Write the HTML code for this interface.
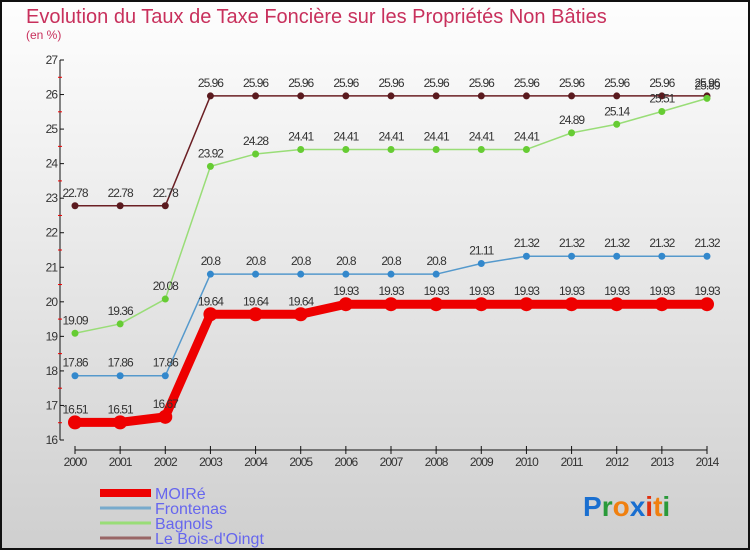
<!DOCTYPE html>
<html><head><meta charset="utf-8"><style>
html,body{margin:0;padding:0}
body{width:750px;height:550px;overflow:hidden;font-family:"Liberation Sans",sans-serif}
</style></head><body>
<svg id="chart" width="750" height="550" xmlns="http://www.w3.org/2000/svg" font-family="Liberation Sans, sans-serif">
<defs><linearGradient id="bg" x1="0" y1="0" x2="0" y2="1"><stop offset="0" stop-color="#fefefe"/><stop offset="1" stop-color="#cfcfcf"/></linearGradient></defs>
<rect x="1" y="1" width="748" height="548" fill="url(#bg)" stroke="#111" stroke-width="2"/>
<text x="26" y="23" font-size="20" fill="#c8305c">Evolution du Taux de Taxe Foncière sur les Propriétés Non Bâties</text>
<text x="26" y="39" font-size="12" fill="#c8305c">(en %)</text>
<g id="axes"></g><g id="series"></g><g id="legend"></g>
<text x="583" y="516" font-size="28" font-weight="bold"><tspan fill="#1a6fd0">P</tspan><tspan fill="#2a9a3a">r</tspan><tspan fill="#f08010">o</tspan><tspan fill="#1a6fd0">x</tspan><tspan fill="#e03010">i</tspan><tspan fill="#f08010">t</tspan><tspan fill="#2a9a3a">i</tspan></text>
</svg>
<script>
const years=[2000,2001,2002,2003,2004,2005,2006,2007,2008,2009,2010,2011,2012,2013,2014];
const moire=[16.51,16.51,16.67,19.64,19.64,19.64,19.93,19.93,19.93,19.93,19.93,19.93,19.93,19.93,19.93];
const frontenas=[17.86,17.86,17.86,20.8,20.8,20.8,20.8,20.8,20.8,21.11,21.32,21.32,21.32,21.32,21.32];
const bagnols=[19.09,19.36,20.08,23.92,24.28,24.41,24.41,24.41,24.41,24.41,24.41,24.89,25.14,25.51,25.89];
const bois=[22.78,22.78,22.78,25.96,25.96,25.96,25.96,25.96,25.96,25.96,25.96,25.96,25.96,25.96,25.96];
const yTicks=[16,17,18,19,20,21,22,23,24,25,26,27];
const names=["MOIRé","Frontenas","Bagnols","Le Bois-d'Oingt"];
const NS="http://www.w3.org/2000/svg";
const x=i=>75+(707-75)*(i-years[0])/(years[years.length-1]-years[0]);
const y=v=>440-(v-16)*(380/11);
function mk(p,t,a){const e=document.createElementNS(NS,t);for(const k in a)e.setAttribute(k,a[k]);p.appendChild(e);return e;}
const ax=document.getElementById('axes');
let l=mk(ax,'line',{x1:60,y1:60,x2:60,y2:440,stroke:'#111'});

l=mk(ax,'line',{x1:75,y1:450,x2:707,y2:450,stroke:'#111'});

yTicks.forEach(v=>{mk(ax,'line',{x1:60,y1:y(v),x2:64,y2:y(v),stroke:'#111'});
if(v<27)mk(ax,'line',{x1:58,y1:y(v+0.5),x2:62,y2:y(v+0.5),stroke:'#e00'});
const t=mk(ax,'text',{x:57,y:y(v)+4,'font-size':12,'text-anchor':'end',fill:'#333','letter-spacing':'-1'});t.textContent=v;
});
years.forEach(yr=>{mk(ax,'line',{x1:x(yr),y1:446,x2:x(yr),y2:454,stroke:'#111'});
const t=mk(ax,'text',{x:x(yr),y:466,'font-size':12,'text-anchor':'middle',fill:'#333','letter-spacing':'-1'});t.textContent=yr;
});
const series=[[bois,'#6b1f24','#5a1a1e',1.5,3.5],[bagnols,'#99dd77','#66cc33',1.5,3.5],[frontenas,'#5599cc','#3388cc',1.5,3.5],[moire,'#ee0000','#ee0000',9,7]];
const sg=document.getElementById('series');
series.forEach(([d,c,mc,w,r],si)=>{
const g=mk(sg,'g',{});
const pl=mk(g,'polyline',{points:d.map((v,i)=>x(years[i])+','+y(v)).join(' '),fill:'none',stroke:c,'stroke-width':w,'stroke-linejoin':'round'});

d.forEach((v,i)=>{const p=mk(g,'circle',{cx:x(years[i]),cy:y(v),r:r,fill:mc});

const t=mk(g,'text',{x:x(years[i]),y:y(v)-9,'font-size':12,'text-anchor':'middle',fill:'#333','letter-spacing':'-1'});t.textContent=String(v);
});});
const lg=document.getElementById('legend');
const lc=['#ee0000','#77aacc','#99dd77','#996666'],lw=[8,3,3,3];
names.forEach((n,i)=>{const g=mk(lg,'g',{});
mk(g,'line',{x1:100,y1:493+i*15,x2:151,y2:493+i*15,stroke:lc[i],'stroke-width':lw[i]});
const t=mk(g,'text',{x:155,y:499+i*15,'font-size':16,fill:'#6666ee'});t.textContent=n;});
</script>
</body></html>
